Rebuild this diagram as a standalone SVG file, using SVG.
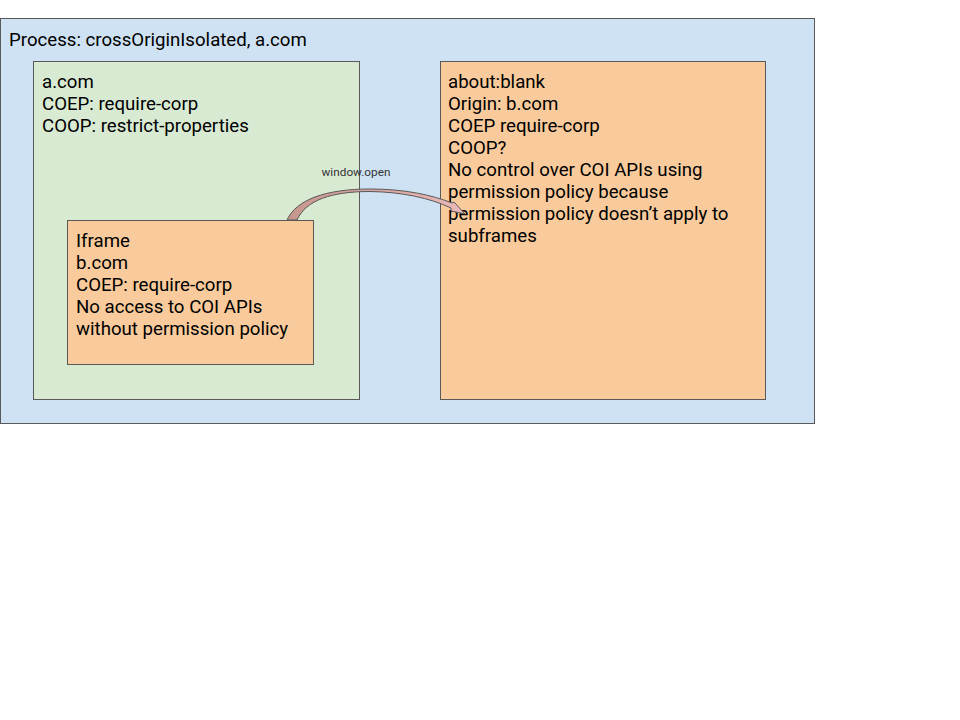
<svg xmlns="http://www.w3.org/2000/svg" width="960" height="720" viewBox="0 0 960 720">
<defs>
<style>
.t{font-family:Roboto,"Liberation Sans",sans-serif;font-size:18.65px;fill:#000}
.box{stroke:#595959;stroke-width:1}
.lbl{font-family:Roboto,"Liberation Sans",sans-serif;font-size:11.8px;fill:#333}
</style>
<linearGradient id="ag" x1="0" y1="0" x2="1" y2="0">
<stop offset="0" stop-color="#c4968c"/>
<stop offset="1" stop-color="#ebb9b9"/>
</linearGradient>
</defs>
<rect width="960" height="720" fill="#fff"/>
<g id="process">
<rect class="box" x="0.5" y="18.5" width="814" height="405" fill="#cfe2f3"/>
<text class="t" x="9" y="46">Process: crossOriginIsolated, a.com</text>
</g>
<g id="acom">
<rect class="box" x="33.5" y="61.5" width="326" height="338" fill="#d9ead3"/>
<text class="t" x="42" y="88">a.com</text>
<text class="t" x="42" y="110">COEP: require-corp</text>
<text class="t" x="42" y="132">COOP: restrict-properties</text>
</g>
<g id="aboutblank">
<rect class="box" x="440.5" y="61.5" width="325" height="338" fill="#f9cb9c"/>
<text class="t" x="448" y="88">about:blank</text>
<text class="t" x="448" y="110">Origin: b.com</text>
<text class="t" x="448" y="132">COEP require-corp</text>
<text class="t" x="448" y="154">COOP?</text>
<text class="t" x="448" y="176">No control over COI APIs using</text>
<text class="t" x="448" y="198">permission policy because</text>
<text class="t" x="448" y="220">permission policy doesn’t apply to</text>
<text class="t" x="448" y="242">subframes</text>
</g>
<g id="iframe">
<rect class="box" x="67.5" y="220.5" width="246" height="144" fill="#f9cb9c"/>
<text class="t" x="76" y="247">Iframe</text>
<text class="t" x="76" y="269">b.com</text>
<text class="t" x="76" y="291">COEP: require-corp</text>
<text class="t" x="76" y="313">No access to COI APIs</text>
<text class="t" x="76" y="335">without permission policy</text>
</g>
<g id="connectors">
<path d="M287,220 C296,200 325,189 370,189 C405,189 432,195 452,203 L454,202 L465,214 L451,211 L451,208 C430,198 402,192 370,191.5 C332,191.5 306,200 297,220 Z" fill="url(#ag)" stroke="#595959" stroke-width="1" stroke-linejoin="round"/>
<text class="lbl" x="356" y="176" text-anchor="middle">window.open</text>
</g>
</svg>
